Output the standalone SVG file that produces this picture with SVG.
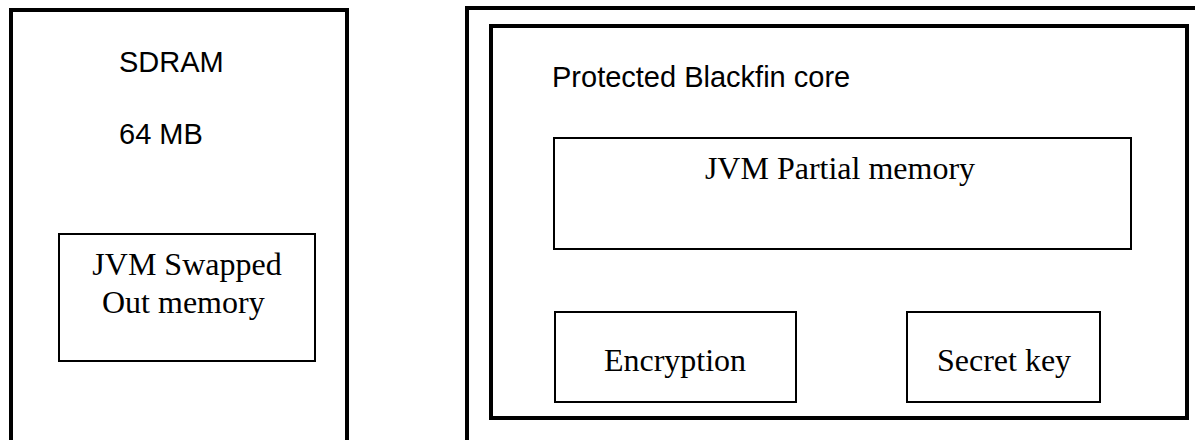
<svg xmlns="http://www.w3.org/2000/svg" width="1195" height="440" viewBox="0 0 1195 440">
<style>
.thick{fill:none;stroke:#000;stroke-width:4}
.thin{fill:none;stroke:#000;stroke-width:2}
.sans{font-family:"Liberation Sans",Arial,sans-serif;font-size:29px;fill:#000}
.serif{font-family:"Liberation Serif","Times New Roman",serif;font-size:32px;fill:#000}
</style>
<rect width="1195" height="440" fill="#fff"/>
<g id="sdram">
<path class="thick" d="M11 442 V10 H347 V442"/>
<text class="sans" x="119" y="72">SDRAM</text>
<text class="sans" x="119" y="144">64 MB</text>
</g>
<g id="swapped">
<rect class="thin" x="59" y="234" width="256" height="127"/>
<text class="serif" x="187" y="275" text-anchor="middle">JVM Swapped</text>
<text class="serif" x="102" y="313">Out memory</text>
</g>
<g id="outer">
<path class="thick" d="M467 442 V8 H1197"/>
</g>
<g id="core">
<rect class="thick" x="491" y="26" width="696" height="392"/>
<text class="sans" x="552" y="87">Protected Blackfin core</text>
</g>
<g id="partial">
<rect class="thin" x="554" y="138" width="577" height="111"/>
<text class="serif" x="840" y="179" text-anchor="middle">JVM Partial memory</text>
</g>
<g id="encryption">
<rect class="thin" x="555" y="312" width="241" height="90"/>
<text class="serif" x="675" y="371" text-anchor="middle">Encryption</text>
</g>
<g id="secretkey">
<rect class="thin" x="907" y="312" width="193" height="90"/>
<text class="serif" x="1004" y="371" text-anchor="middle">Secret key</text>
</g>
<g id="connectors"></g>
</svg>
